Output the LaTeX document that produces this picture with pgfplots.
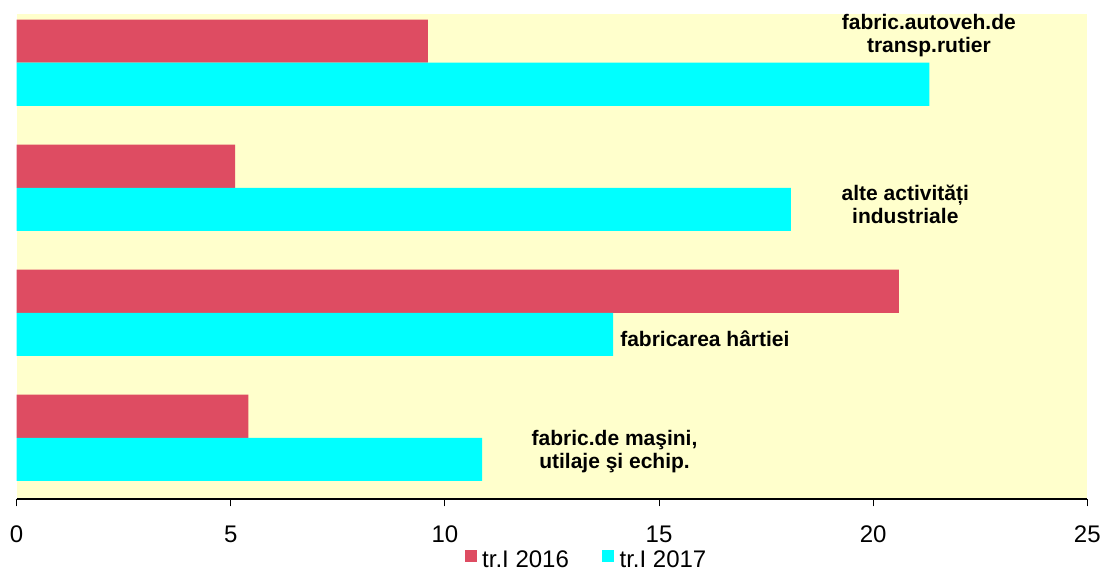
\documentclass[border=0pt]{standalone}
\usepackage{fontspec}
\setmainfont{Liberation Sans}
\usepackage{pgfplots}
\pgfplotsset{compat=1.18}
\definecolor{barred}{RGB}{222,76,98}
\definecolor{barcyan}{RGB}{0,255,255}
\definecolor{bgyellow}{RGB}{255,255,204}
\begin{document}
\begin{tikzpicture}
\begin{axis}[
  at={(12.5pt,-374.25pt)}, anchor=south west,
  scale only axis, width=803pt, height=363.75pt,
  xmin=0, xmax=25, ymin=-0.49, ymax=3.39,
  axis background/.style={fill=bgyellow},
  axis x line*=bottom,
  axis y line=none,
  xtick={0,5,10,15,20,25},
  xtick align=outside,
  major tick length=5.5pt,
  x axis line style={line width=0.8pt},
  every tick/.style={black, line width=0.8pt},
  /pgf/number format/assume math mode=true,
  xticklabel style={font=\fontsize{18}{20}\selectfont, yshift=-11pt},
  ytick=\empty,
  xbar, bar width=0.345,
  legend columns=2,
  legend style={draw=none, fill=none, at={(0.532,-0.097)}, anchor=north,
    font=\fontsize{18}{20}\selectfont, nodes={inner sep=1pt},
    column sep=3pt,
    /tikz/every even column/.append style={column sep=24pt}},
  clip=false,
]
\addplot[fill=barred, draw=none, bar shift=0.1725,
  legend image code/.code={\fill[barred] (0pt,-1.5pt) rectangle (9pt,7.5pt);}]
  coordinates {(9.6,3) (5.1,2) (20.6,1) (5.41,0)};
\addlegendentry{tr.I 2016}
\addplot[fill=barcyan, draw=none, bar shift=-0.1725,
  legend image code/.code={\fill[barcyan] (0pt,-1.5pt) rectangle (9pt,7.5pt);}]
  coordinates {(21.31,3) (18.08,2) (13.93,1) (10.87,0)};
\addlegendentry{tr.I 2017}
\node[align=center, font=\bfseries\fontsize{15.75}{17.25}\selectfont] at (axis cs:21.3,3.216) {fabric.autoveh.de\\transp.rutier};
\node[align=center, font=\bfseries\fontsize{15.75}{17.25}\selectfont] at (axis cs:20.75,1.87) {alte activități\\industriale};
\node[align=center, font=\bfseries\fontsize{15.75}{17.25}\selectfont] at (axis cs:16.07,0.79) {fabricarea hârtiei};
\node[align=center, font=\bfseries\fontsize{15.75}{17.25}\selectfont] at (axis cs:13.96,-0.11) {fabric.de maşini,\\utilaje şi echip.};
\end{axis}
\pgfresetboundingbox
\useasboundingbox (0,0) rectangle (826.5pt,-430.5pt);
\end{tikzpicture}
\end{document}
